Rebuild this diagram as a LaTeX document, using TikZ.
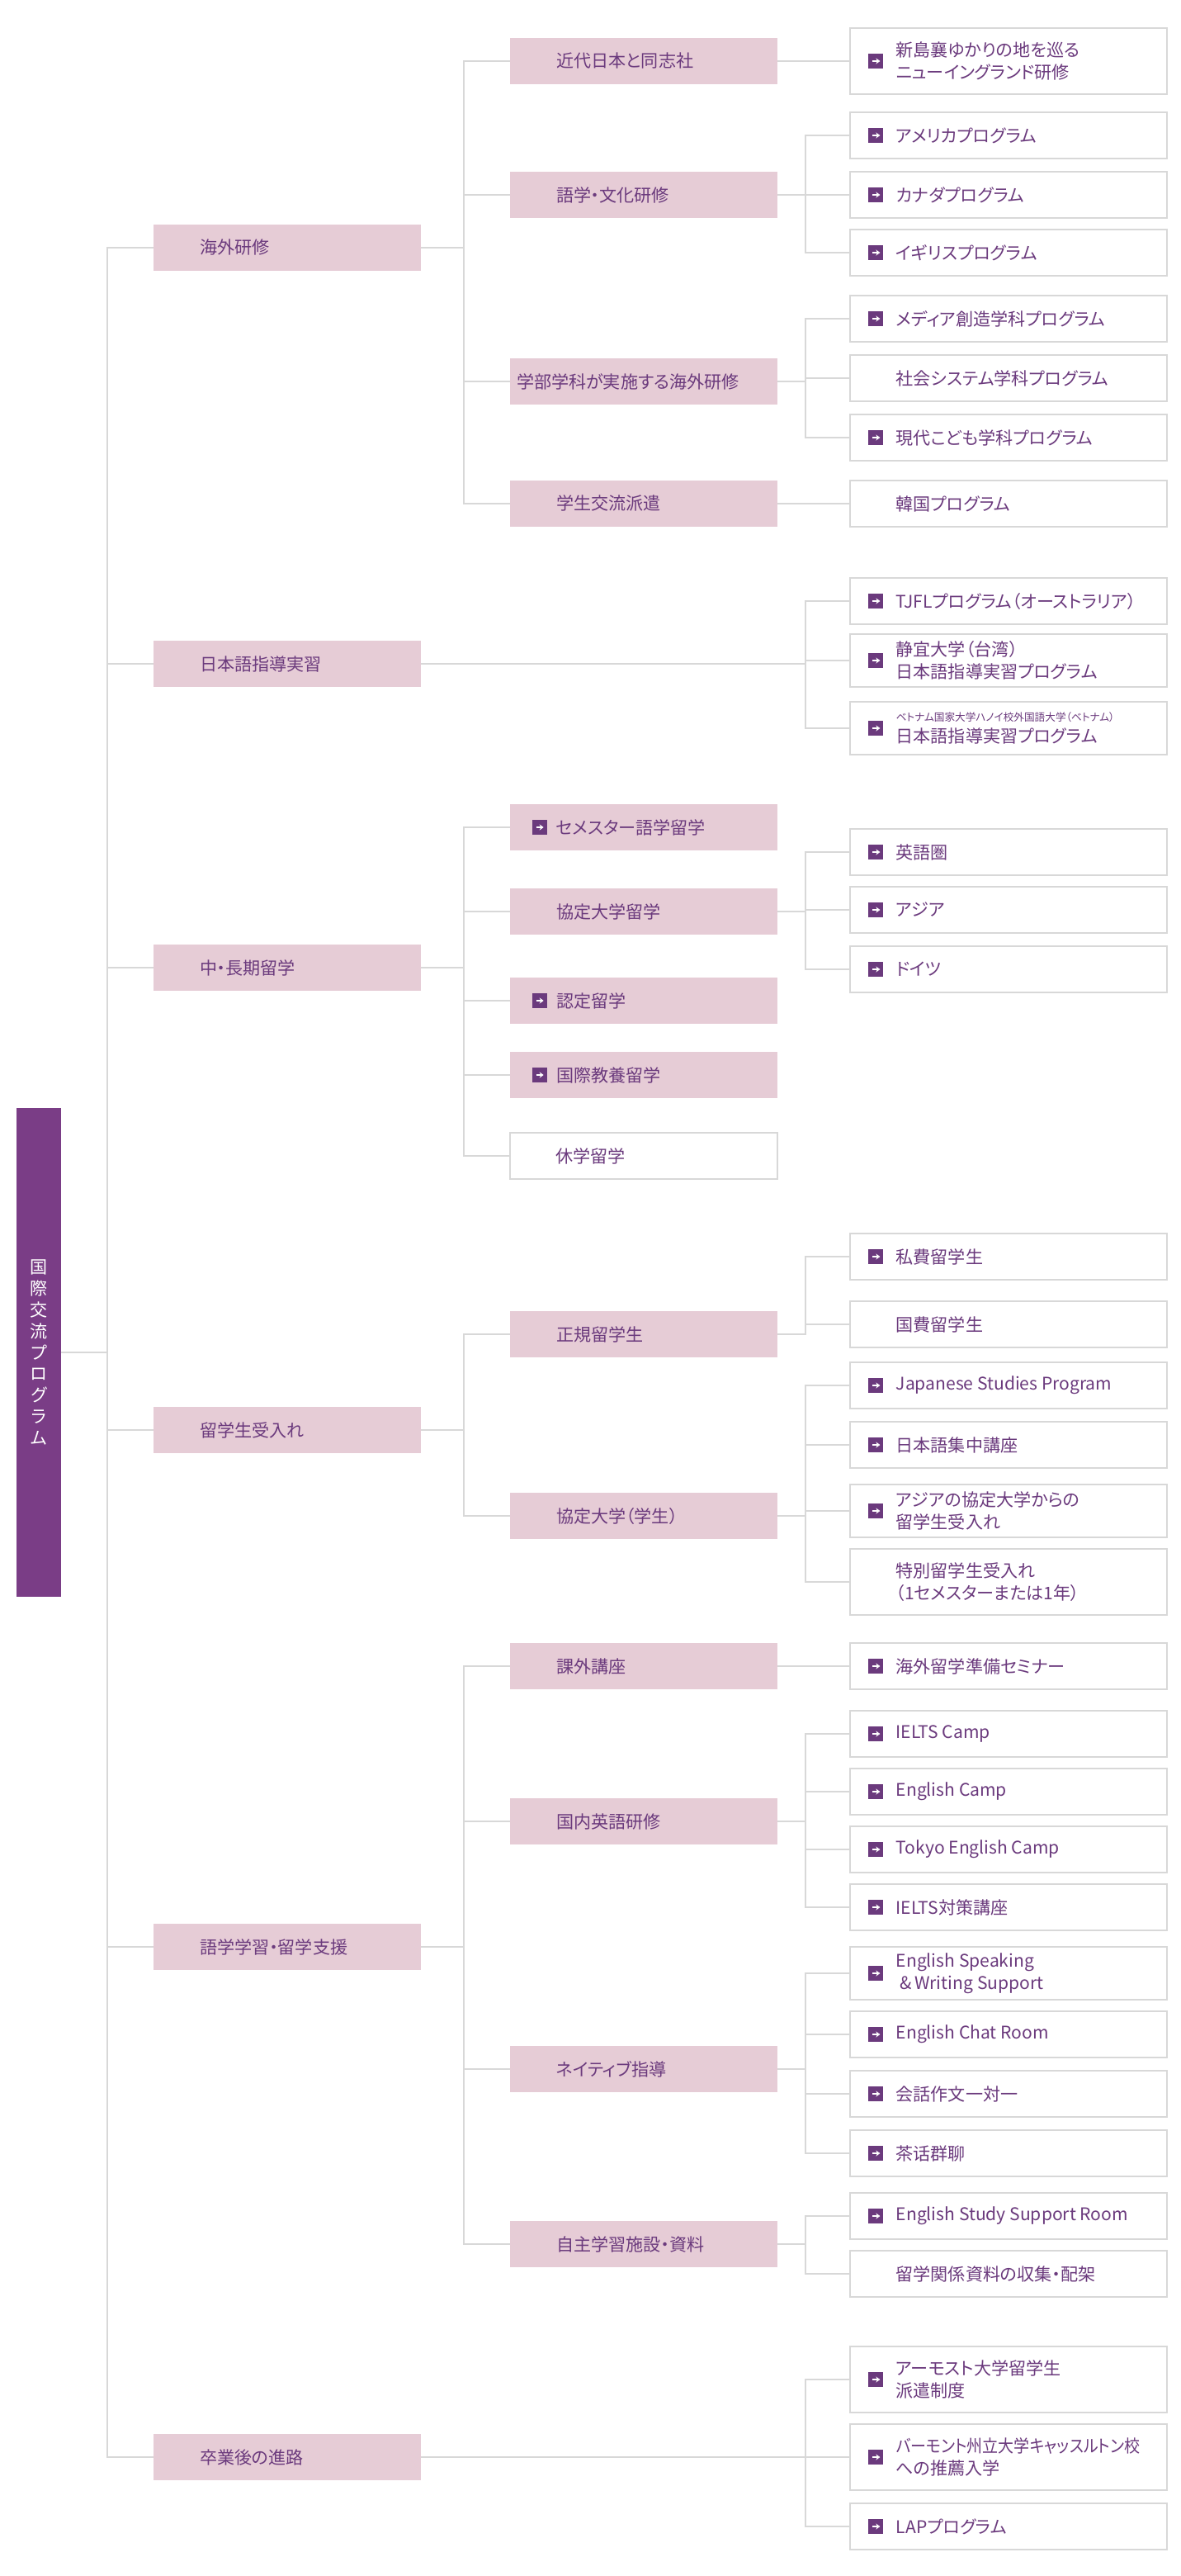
\documentclass[tikz,border=0pt]{standalone}
\usepackage{fontspec}
\setmainfont[RawFeature=+palt]{Noto Sans CJK JP}
\usetikzlibrary{arrows.meta,calc}
\definecolor{purp}{HTML}{6B3A7D}
\definecolor{rootpurp}{HTML}{7A3D86}
\definecolor{pinkbox}{HTML}{E6CCD6}
\definecolor{linegray}{HTML}{D8D8D8}
\def\u{0.05cm}
\tikzset{
  conn/.style={draw=linegray,line width=0.8pt},
  rootbox/.style={fill=rootpurp,text=white,minimum width=27*\u,minimum height=296*\u,inner sep=0pt,align=center,font=\fontsize{15}{18.4}\selectfont},
  topbox/.style={fill=pinkbox,minimum width=162*\u,minimum height=28*\u,inner sep=0pt},
  midbox/.style={fill=pinkbox,minimum width=162*\u,minimum height=28*\u,inner sep=0pt},
  leafbox/.style={draw=linegray,line width=0.8pt,fill=white,minimum width=192*\u,inner sep=0pt},
  goicon/.style={fill=purp,minimum size=9*\u,inner sep=0pt,
    path picture={\draw[white,line width=1pt,-{Stealth[length=3.5pt,width=5pt]}]
      ([xshift=-3pt]path picture bounding box.center) -- ([xshift=3.5pt]path picture bounding box.center);}},
  txt/.style={anchor=west,inner sep=0pt,align=left,text=purp,font=\fontsize{15}{19}\selectfont},
}
% top level, middle level and leaf boxes
\newcommand\topnode[3]{%
  \node[topbox] (#1) at (174,#2) {};
  \node[txt] (#1t) at ([xshift=28*\u]#1.west) {#3};}
\newcommand\midnode[3]{%
  \node[midbox] (#1) at (390,#2) {};
  \node[goicon] (#1i) at ([xshift=18*\u]#1.west) {};
  \node[txt] (#1t) at ([xshift=28*\u]#1.west) {#3};}
\newcommand\midplain[4][28]{%
  \node[midbox] (#2) at (390,#3) {};
  \node[txt] (#2t) at ([xshift=#1*\u]#2.west) {#4};}
\newcommand\leaf[5]{%
  \node[leafbox,minimum height=#3*\u] (#1) at (611,#2) {};
  \ifnum#4=1 \node[goicon] (#1i) at ([xshift=16*\u]#1.west) {};\fi
  \node[txt] (#1t) at ([xshift=28*\u]#1.west) {#5};}
\begin{document}
\begin{tikzpicture}[x=0.05cm,y=-0.05cm]
	\useasboundingbox (0,0) rectangle (715,1560);
	\fill[white] (0,0) rectangle (715,1560);
	\coordinate (bus1) at (65,0);
	\coordinate (bus2) at (281,0);
	\coordinate (bus3) at (488,0);
	% root
	\node[rootbox] (root) at (23.5,819) {国\\際\\交\\流\\プ\\ロ\\グ\\ラ\\ム};
	% level 1
	\topnode{abroad}{150}{海外研修}
	\topnode{teach}{402}{日本語指導実習}
	\topnode{long}{586}{中・長期留学}
	\topnode{accept}{866}{留学生受入れ}
	\topnode{lang}{1179}{語学学習・留学支援}
	\topnode{career}{1488}{卒業後の進路}
	% level 2
	\midplain{modern}{37}{近代日本と同志社}
	\midplain{culture}{118}{語学・文化研修}
	\midplain[4]{faculty}{231}{学部学科が実施する海外研修}
	\midplain{exch}{305}{学生交流派遣}
	\midnode{semester}{501}{セメスター語学留学}
	\midplain{partner}{552}{協定大学留学}
	\midnode{approved}{606}{認定留学}
	\midnode{liberal}{651}{国際教養留学}
	\node[midbox,fill=white,draw=linegray,line width=0.8pt] (leave) at (390,700) {};
	\node[txt] (leavet) at ([xshift=28*\u]leave.west) {休学留学};
	\midplain{regular}{808}{正規留学生}
	\midplain{partstu}{918}{協定大学（学生）}
	\midplain{extra}{1009}{課外講座}
	\midplain{domestic}{1103}{国内英語研修}
	\midplain{native}{1253}{ネイティブ指導}
	\midplain{selfstudy}{1359}{自主学習施設・資料}
	% leaves
	\leaf{niijima}{37}{40}{1}{新島襄ゆかりの地を巡る\\ニューイングランド研修}
	\leaf{america}{82}{28}{1}{アメリカプログラム}
	\leaf{canada}{118}{28}{1}{カナダプログラム}
	\leaf{uk}{153}{28}{1}{イギリスプログラム}
	\leaf{media}{193}{28}{1}{メディア創造学科プログラム}
	\leaf{social}{229}{28}{0}{社会システム学科プログラム}
	\leaf{kids}{265}{28}{1}{現代こども学科プログラム}
	\leaf{korea}{305}{28}{0}{韓国プログラム}
	\leaf{tjfl}{364}{28}{1}{TJFLプログラム（オーストラリア）}
	\leaf{taiwan}{400}{32}{1}{静宜大学（台湾）\\日本語指導実習プログラム}
	\leaf{vietnam}{441}{32}{1}{{\fontsize{9}{11}\selectfont ベトナム国家大学ハノイ校外国語大学（ベトナム）}\\日本語指導実習プログラム}
	\leaf{english}{516}{28}{1}{英語圏}
	\leaf{asia}{551}{28}{1}{アジア}
	\leaf{germany}{587}{28}{1}{ドイツ}
	\leaf{private}{761}{28}{1}{私費留学生}
	\leaf{govt}{802}{28}{0}{国費留学生}
	\leaf{jsp}{839}{28}{1}{Japanese Studies Program}
	\leaf{intensive}{875}{28}{1}{日本語集中講座}
	\leaf{asiapart}{915}{32}{1}{アジアの協定大学からの\\留学生受入れ}
	\leaf{special}{958}{40}{0}{特別留学生受入れ\\（1セメスターまたは1年）}
	\leaf{seminar}{1009}{28}{1}{海外留学準備セミナー}
	\leaf{ielts}{1050}{28}{1}{IELTS Camp}
	\leaf{ecamp}{1085}{28}{1}{English Camp}
	\leaf{tokyo}{1120}{28}{1}{Tokyo English Camp}
	\leaf{ieltsprep}{1155}{28}{1}{IELTS対策講座}
	\leaf{esws}{1195}{32}{1}{English Speaking\\\ \&\,Writing Support}
	\leaf{chat}{1232}{28}{1}{English Chat Room}
	\leaf{oneone}{1268}{28}{1}{会話作文一対一}
	\leaf{tea}{1304}{28}{1}{茶话群聊}
	\leaf{essr}{1342}{28}{1}{English Study Support Room}
	\leaf{material}{1377}{28}{0}{留学関係資料の収集・配架}
	\leaf{amherst}{1441}{40}{1}{アーモスト大学留学生\\派遣制度}
	\leaf{vermont}{1488}{40}{1}{\scalebox{0.9}[1]{バーモント州立大学キャッスルトン校}\\への推薦入学}
	\leaf{lap}{1530}{28}{1}{LAPプログラム}
	% connectors
	\draw[conn] (root.east) -- (root.east -| bus1);
	\foreach \a in {abroad,teach,long,accept,lang,career}
		\draw[conn] (root.east -| bus1) |- (\a.west);
	\foreach \p/\c in {abroad/modern,abroad/culture,abroad/faculty,abroad/exch,
		long/semester,long/partner,long/approved,long/liberal,long/leave,
		accept/regular,accept/partstu,
		lang/extra,lang/domestic,lang/native,lang/selfstudy}
		\draw[conn] (\p.east) -- (\p.east -| bus2) |- (\c.west);
	\foreach \p/\c in {modern/niijima,culture/america,culture/canada,culture/uk,
		faculty/media,faculty/social,faculty/kids,exch/korea,
		teach/tjfl,teach/taiwan,teach/vietnam,
		partner/english,partner/asia,partner/germany,
		regular/private,regular/govt,
		partstu/jsp,partstu/intensive,partstu/asiapart,partstu/special,
		extra/seminar,domestic/ielts,domestic/ecamp,domestic/tokyo,domestic/ieltsprep,
		native/esws,native/chat,native/oneone,native/tea,
		selfstudy/essr,selfstudy/material,
		career/amherst,career/vermont,career/lap}
		\draw[conn] (\p.east) -- (\p.east -| bus3) |- (\c.west);
\end{tikzpicture}
\end{document}
